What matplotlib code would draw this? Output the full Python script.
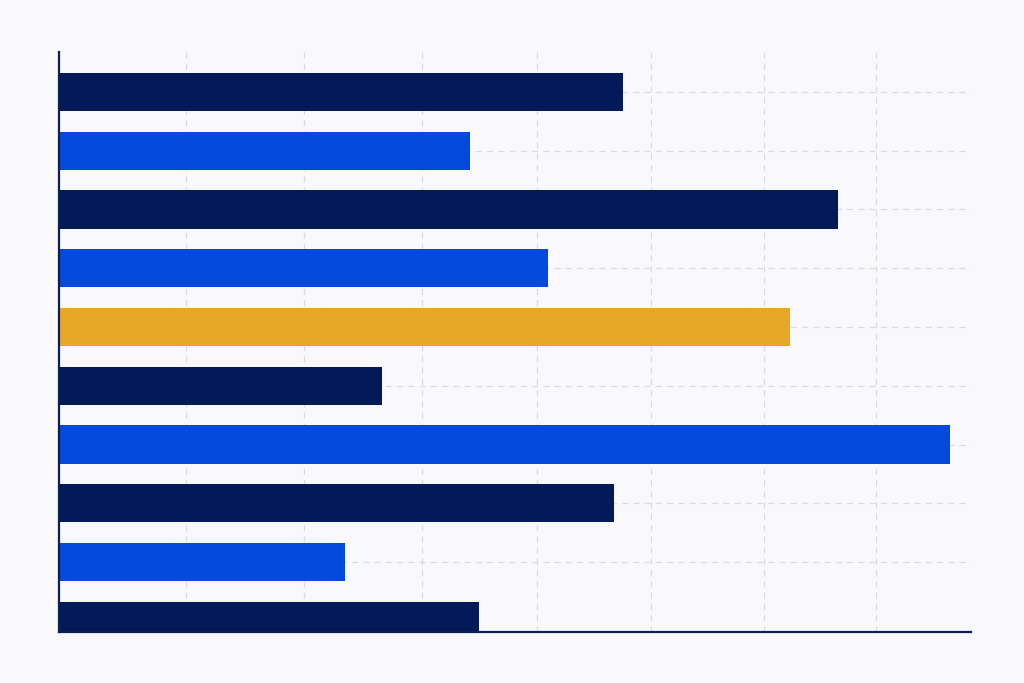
import matplotlib
matplotlib.use("Agg")
import matplotlib.pyplot as plt

categories = ["A", "B", "C", "D", "E", "F", "G", "H", "I", "J"]
values = [61.8, 45.1, 85.4, 53.6, 80.2, 35.4, 97.7, 60.9, 31.4, 46.1]
bar_colors = ["#021A57", "#0349DB", "#021A57", "#0349DB", "#E8A628",
              "#021A57", "#0349DB", "#021A57", "#0349DB", "#021A57"]
x_grid = [13.9, 26.9, 39.8, 52.4, 64.9, 77.3, 89.6]
y_grid = [0, 1, 2, 3, 4, 5, 6, 7, 8]

bg = "#F9F9FB"
fig = plt.figure(figsize=(10.24, 6.83), dpi=100, facecolor=bg)
ax = fig.add_axes([59/1024, 51/683, 912/1024, 580/683])
ax.set_facecolor(bg)

pos = list(range(len(categories)))
ax.barh(pos, values, height=0.65, color=bar_colors, zorder=3)

ax.set_xlim(0, 100)
ax.set_ylim(9.19, -0.68)

ax.set_xticks(x_grid)
ax.set_yticks(y_grid)
ax.tick_params(length=0, labelleft=False, labelbottom=False)
ax.grid(True, color="#D9DCE8", linestyle=(0, (5, 4)), linewidth=0.9, zorder=0)
ax.set_axisbelow(True)

for s in ["top", "right"]:
    ax.spines[s].set_visible(False)
for s in ["left", "bottom"]:
    ax.spines[s].set_color("#0B1E55")
    ax.spines[s].set_linewidth(1.6)
    ax.spines[s].set_zorder(4)

fig.savefig("out.png", dpi=100, facecolor=bg)
